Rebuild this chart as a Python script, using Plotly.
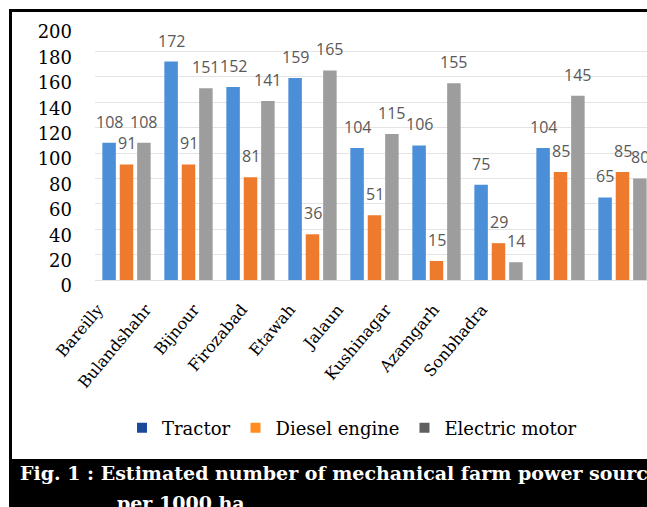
import plotly.graph_objects as go

# District-wise farm power sources per 1000 ha
districts = ["Bareilly", "Bulandshahr", "Bijnour", "Firozabad", "Etawah",
             "Jalaun", "Kushinagar", "Azamgarh", "Sonbhadra"]
tractor = [108, 172, 152, 159, 104, 106, 75, 104, 65]
diesel_engine = [91, 91, 81, 36, 51, 15, 29, 85, 85]
electric_motor = [108, 151, 141, 165, 115, 155, 14, 145, 80]

series_names = ["Tractor", "Diesel engine", "Electric motor"]
series_values = [tractor, diesel_engine, electric_motor]
bar_colors = ["#4a8fd8", "#ee7a2d", "#9d9d9d"]
legend_colors = ["#1b4a9c", "#ff8c1e", "#5f5f5f"]
y_ticks = [0, 20, 40, 60, 80, 100, 120, 140, 160, 180, 200]

W, H = 647, 507
L, R, T, B = 95, 0, 26, 227
PW, PH = W - L - R, H - T - B
CAT_PX = 62      # width of one district slot on the bar axis
LBL_PX = 48      # spacing of the rotated district names
SLOT_PX = 17.4   # distance between neighbouring bars in a group


def px_x(p):
    return (p - L) / PW


def px_y(p):
    return (H - B - p) / PH


fig = go.Figure()

for name, vals, col in zip(series_names, series_values, bar_colors):
    fig.add_trace(go.Bar(
        x=districts, y=vals, name=name, marker=dict(color=col, line=dict(width=0)),
        showlegend=False, hoverinfo="x+y+name",
    ))

# legend entries with their own swatch colours
for name, col in zip(series_names, legend_colors):
    fig.add_trace(go.Scatter(
        x=[None], y=[None], name=name, mode="markers",
        marker=dict(symbol="square", size=10, color=col),
    ))

# carrier for the district names on the secondary axis
fig.add_trace(go.Scatter(
    x=districts, y=[0] * len(districts), xaxis="x2", mode="markers",
    marker=dict(opacity=0), showlegend=False, hoverinfo="skip",
))

# value labels above each bar
annotations = []
for k, vals in enumerate(series_values):
    for d, v in zip(districts, vals):
        annotations.append(dict(
            x=d, y=v, xref="x", yref="y", text=str(v), showarrow=False,
            xanchor="center", yanchor="bottom", xshift=(k - 1) * SLOT_PX, yshift=8,
            font=dict(family="Open Sans", size=16, color="#595959"),
        ))

# figure caption
cap_font = dict(family="DejaVu Serif", size=19, color="white")
annotations.append(dict(
    x=px_x(18), y=px_y(473), xref="paper", yref="paper", showarrow=False,
    xanchor="left", yanchor="middle",
    text="<b>Fig. 1 : Estimated number of mechanical farm power sources</b>",
    font=cap_font,
))
annotations.append(dict(
    x=px_x(115), y=px_y(503), xref="paper", yref="paper", showarrow=False,
    xanchor="left", yanchor="middle",
    text="<b>per 1000 ha</b>",
    font=cap_font,
))

r0 = -(126.5 - L) / CAT_PX
r0b = -(98 - L) / LBL_PX

fig.update_layout(
    width=W, height=H,
    margin=dict(l=L, r=R, t=T, b=B, pad=0),
    paper_bgcolor="white", plot_bgcolor="white",
    barmode="group", bargap=0.158, bargroupgap=0.224,
    xaxis=dict(
        type="category", range=[r0, r0 + PW / CAT_PX], showticklabels=False,
        showgrid=False, zeroline=False, showline=False, ticks="",
    ),
    xaxis2=dict(
        type="category", overlaying="x", anchor="y", side="bottom",
        categoryorder="array", categoryarray=districts,
        range=[r0b, r0b + PW / LBL_PX], showgrid=False, zeroline=False,
        showline=False, ticks="", tickangle=-50, ticklabelstandoff=16,
        tickfont=dict(family="DejaVu Serif", size=16, color="black"),
    ),
    yaxis=dict(
        range=[0, 200], tickvals=y_ticks, showgrid=True, gridcolor="#e4e4e4",
        gridwidth=1, zeroline=True, zerolinecolor="#e0e0e0", zerolinewidth=1,
        showline=False, ticks="", ticklabelstandoff=22, ticklabelshift=6,
        tickfont=dict(family="DejaVu Serif", size=18, color="black"),
    ),
    legend=dict(
        orientation="h", x=px_x(352), y=px_y(428), xanchor="center",
        yanchor="middle", font=dict(family="DejaVu Serif", size=18, color="black"),
        bgcolor="rgba(0,0,0,0)", itemwidth=30,
    ),
    annotations=annotations,
    shapes=[
        # caption band
        dict(type="rect", xref="paper", yref="paper", x0=px_x(9), x1=px_x(700),
             y0=px_y(520), y1=px_y(459), fillcolor="black", line=dict(width=0),
             layer="below"),
        # frame: top and left edges
        dict(type="line", xref="paper", yref="paper", x0=px_x(9), x1=px_x(700),
             y0=px_y(10.5), y1=px_y(10.5), line=dict(color="black", width=3)),
        dict(type="line", xref="paper", yref="paper", x0=px_x(10.5), x1=px_x(10.5),
             y0=px_y(9), y1=px_y(460), line=dict(color="black", width=3)),
    ],
)

fig.write_html("out.html")
